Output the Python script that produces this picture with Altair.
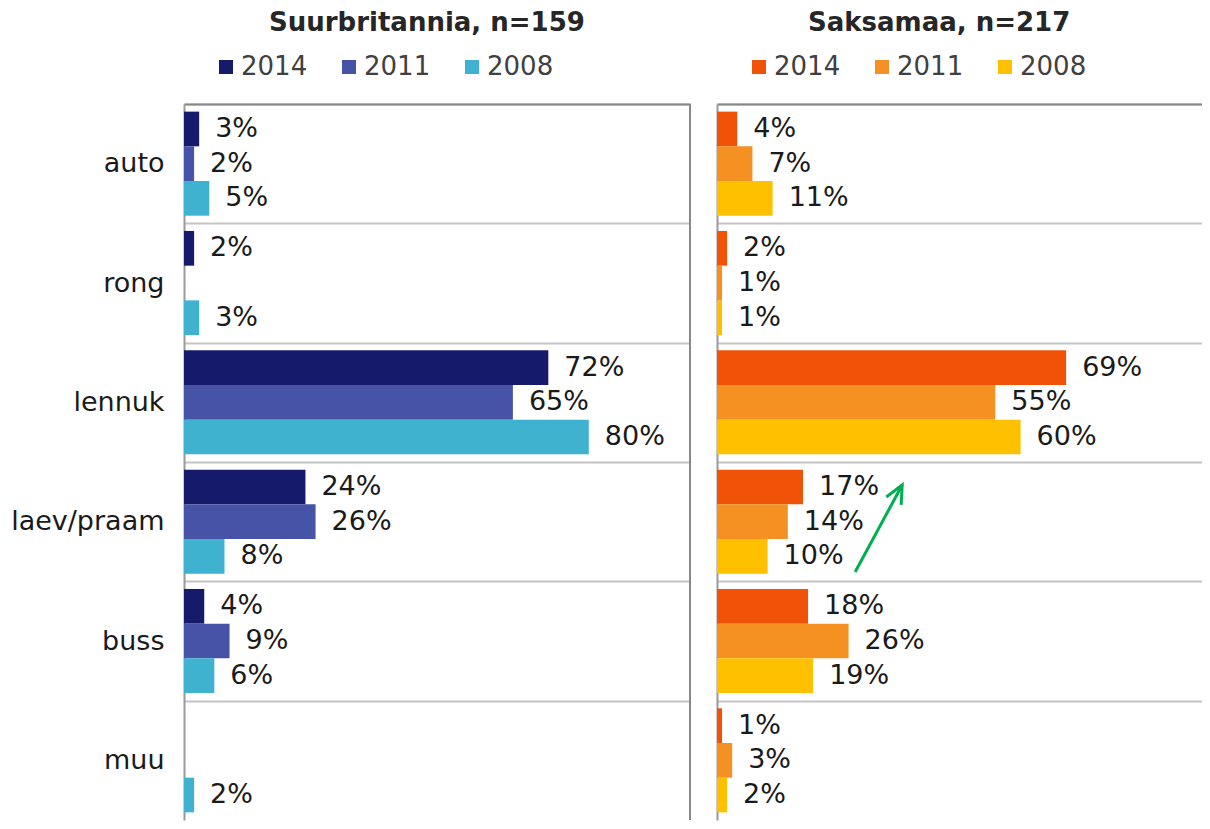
import altair as alt
import pandas as pd

categories = ["auto", "rong", "lennuk", "laev/praam", "buss", "muu"]
years = ["2014", "2011", "2008"]

gb_2014 = [3, 2, 72, 24, 4, None]
gb_2011 = [2, None, 65, 26, 9, None]
gb_2008 = [5, 3, 80, 8, 6, 2]

de_2014 = [4, 2, 69, 17, 18, 1]
de_2011 = [7, 1, 55, 14, 26, 3]
de_2008 = [11, 1, 60, 10, 19, 2]

gb_colors = ["#151a6a", "#4753a6", "#3fb2cf"]
de_colors = ["#f05307", "#f59122", "#ffc000"]

arrow_x = [27.3, 36.6]

FONT = "DejaVu Sans"
PX_PER_PCT = 5.06
W_LEFT = 506
W_RIGHT = 485
H = 716


def frame(series):
    rows = []
    for year, vals in zip(years, series):
        for c, v in zip(categories, vals):
            if v is not None:
                rows.append({"kategooria": c, "aasta": year, "v": v, "label": f"{v}%"})
    return pd.DataFrame(rows)


def panel(df, colors, title, title_dx, show_labels, width, right_border, with_arrow=False):
    xmax = width / PX_PER_PCT
    y = alt.Y(
        "kategooria:N",
        sort=categories,
        scale=alt.Scale(domain=categories, paddingInner=0, paddingOuter=0),
        axis=alt.Axis(
            title=None, labels=show_labels, ticks=False, domain=True,
            domainColor="#9a9a9a", domainWidth=2,
            grid=True, gridColor="#c4c4c4", gridWidth=2, tickBand="extent",
            gridOpacity=alt.condition("datum.value === 'muu'", alt.value(0), alt.value(1)),
            labelFontSize=27, labelFont=FONT, labelColor="#1a1a1a", labelPadding=20,
        ),
    )
    x = alt.X(
        "v:Q",
        scale=alt.Scale(domain=[0, xmax], nice=False, zero=True),
        axis=alt.Axis(orient="top", labels=False, ticks=False, grid=False, title=None,
                      domainColor="#888888", domainWidth=2),
    )
    yoff = alt.YOffset("aasta:N", sort=years,
                       scale=alt.Scale(domain=years, paddingOuter=0.22, paddingInner=0))
    base = alt.Chart(df)
    bars = base.mark_bar().encode(
        x=x, y=y, yOffset=yoff,
        color=alt.Color(
            "aasta:N", sort=years,
            scale=alt.Scale(domain=years, range=colors),
            legend=alt.Legend(
                title=None, orient="none", legendX=29, legendY=-50,
                direction="horizontal", columns=3,
                symbolType="square", symbolSize=196, symbolStrokeWidth=0,
                labelFontSize=26, labelFont=FONT, labelColor="#404040",
                labelOffset=2, columnPadding=28,
            ),
        ),
    )
    text = base.mark_text(align="left", baseline="middle", dx=16, fontSize=27,
                          font=FONT, color="#1a1a1a").encode(
        x="v:Q", y=alt.Y("kategooria:N", sort=categories), yOffset=alt.YOffset("aasta:N", sort=years),
        text="label:N",
    )
    layers = [bars, text]
    if right_border:
        border = alt.Chart(pd.DataFrame({"x": [100]})).mark_rule(
            color="#888888", strokeWidth=2).encode(x="x:Q")
        layers.append(border)
    if with_arrow:
        arr = alt.Chart(pd.DataFrame({"a": [0]}))
        line = arr.mark_rule(color="#00b050", strokeWidth=3).encode(
            x=alt.datum(arrow_x[0]), x2=alt.datum(arrow_x[1]),
            y=alt.value(468), y2=alt.value(381),
        )
        head = arr.mark_point(
            shape="M -0.42 0.9 L 0 0 L 0.42 0.9", filled=False, strokeWidth=3,
            color="#00b050", size=1600, angle=28, opacity=1,
        ).encode(x=alt.datum(arrow_x[1]), y=alt.value(381))
        layers += [line, head]
    return alt.layer(*layers).properties(
        width=width, height=H,
        title=alt.TitleParams(
            title, anchor="start", frame="group", dx=title_dx, offset=18,
            fontSize=26, font=FONT, fontWeight="bold", color="#262626",
        ),
    )


left = panel(frame([gb_2014, gb_2011, gb_2008]), gb_colors, "Suurbritannia, n=159", 85, True,
             W_LEFT, True)
right = panel(frame([de_2014, de_2011, de_2008]), de_colors, "Saksamaa, n=217", 91, False,
              W_RIGHT, False, with_arrow=True)

chart = (
    alt.hconcat(left, right, spacing=26)
    .resolve_scale(color="independent")
    .configure_view(stroke=None)
    .properties(padding={"left": 2, "top": 2, "right": 0, "bottom": 0})
)

chart.save("out.html", embed_options={"renderer": "svg", "actions": False})
